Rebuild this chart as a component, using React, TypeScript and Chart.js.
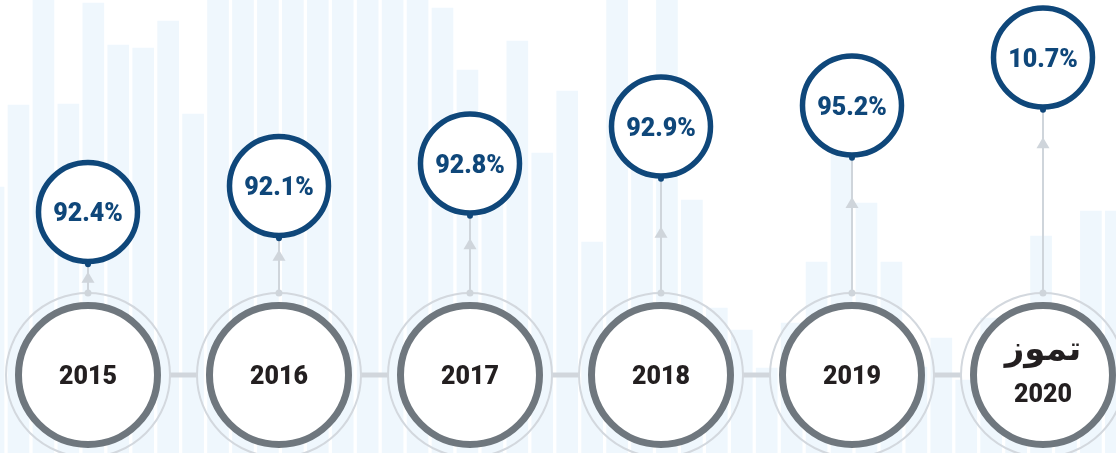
import React, { useEffect, useRef } from 'react';
import { Chart, registerables } from 'chart.js';

Chart.register(...registerables);

// ---- data ----
const years = ['2015', '2016', '2017', '2018', '2019', '2020'];
const yearPrefix = ['', '', '', '', '', 'تموز'];
const rates = [92.4, 92.1, 92.8, 92.9, 95.2, 10.7];
// decorative background bar heights (first bar is partly off the left edge)
const bgBarHeights = [
  266, 348, 453, 349, 450, 408, 405, 432, 339,
  453, 453, 453, 453, 453, 453, 453, 453, 453,
  445, 383, 283, 412, 300, 362, 211, 453, 333, 453,
  253, 145, 123, 85, 130, 191, 353, 250, 191, 86,
  115, 73, 135, 123, 217, 133, 242, 242,
];

// ---- layout / style constants (not data) ----
const BLUE = '#0f477a';
const ROW_LEVEL = 78;
const BUBBLE_LEVELS = [241, 267, 289.5, 326.5, 347.5, 395.5];
const ARROW_FRAC = [0.26, 0.21, 0.29, 0.42, 0.29, 0.15];
const R_OUTER = 82;
const R_RING = 69.5;
const RING_W = 7;
const R_BUB = 49.5;
const BUB_W = 5.5;
const NUM_FONT = '900 25px Roboto';

const timelinePlugin = {
  id: 'timeline',
  afterDatasetsDraw(chart: any) {
    const ctx = chart.ctx as CanvasRenderingContext2D;
    const xs = chart.scales.x;
    const ys = chart.scales.y;
    const cy = ys.getPixelForValue(ROW_LEVEL);
    const cxs = years.map((_, i) => xs.getPixelForValue(i));
    ctx.save();
    // connectors
    ctx.strokeStyle = '#d1d6dc';
    ctx.lineWidth = 5;
    for (let i = 0; i < cxs.length - 1; i++) {
      ctx.beginPath();
      ctx.moveTo(cxs[i] + R_OUTER, cy);
      ctx.lineTo(cxs[i + 1] - R_OUTER, cy);
      ctx.stroke();
    }
    years.forEach((yr, i) => {
      const cx = cxs[i];
      // outer thin ring
      ctx.beginPath();
      ctx.arc(cx, cy, R_OUTER, 0, Math.PI * 2);
      ctx.lineWidth = 2;
      ctx.strokeStyle = '#d3d8de';
      ctx.stroke();
      // thick ring
      ctx.beginPath();
      ctx.arc(cx, cy, R_RING, 0, Math.PI * 2);
      ctx.fillStyle = '#ffffff';
      ctx.fill();
      ctx.lineWidth = RING_W;
      ctx.strokeStyle = '#6f777e';
      ctx.stroke();
      // year text
      ctx.fillStyle = '#231f20';
      ctx.textAlign = 'center';
      ctx.textBaseline = 'alphabetic';
      if (yearPrefix[i]) {
        ctx.font = 'bold 34px "DejaVu Sans"';
        ctx.fillText(yearPrefix[i], cx, cy - 15);
        ctx.font = NUM_FONT;
        ctx.fillText(yr, cx, cy + 27);
      } else {
        ctx.font = NUM_FONT;
        ctx.fillText(yr, cx, cy + 9);
      }
      // connector up to bubble
      const by = ys.getPixelForValue(BUBBLE_LEVELS[i]);
      const bBottom = by + R_BUB + BUB_W / 2;
      const lineBottom = cy - R_OUTER;
      ctx.beginPath();
      ctx.moveTo(cx, lineBottom);
      ctx.lineTo(cx, bBottom);
      ctx.lineWidth = 2;
      ctx.strokeStyle = '#cfd5db';
      ctx.stroke();
      ctx.fillStyle = '#cfd5db';
      ctx.beginPath();
      ctx.arc(cx, lineBottom, 3.5, 0, Math.PI * 2);
      ctx.fill();
      const tip = bBottom + ARROW_FRAC[i] * (lineBottom - bBottom);
      ctx.beginPath();
      ctx.moveTo(cx, tip);
      ctx.lineTo(cx + 6.5, tip + 11);
      ctx.lineTo(cx - 6.5, tip + 11);
      ctx.closePath();
      ctx.fill();
      // bubble
      ctx.beginPath();
      ctx.arc(cx, by, R_BUB, 0, Math.PI * 2);
      ctx.fillStyle = '#ffffff';
      ctx.fill();
      ctx.lineWidth = BUB_W;
      ctx.strokeStyle = BLUE;
      ctx.stroke();
      ctx.beginPath();
      ctx.arc(cx, bBottom, 3, 0, Math.PI * 2);
      ctx.fillStyle = BLUE;
      ctx.fill();
      ctx.font = NUM_FONT;
      ctx.fillText(rates[i].toFixed(1) + '%', cx, by + 9);
    });
    ctx.restore();
  },
};

export default function App() {
  const ref = useRef<HTMLCanvasElement>(null);
  useEffect(() => {
    document.body.style.margin = '0';
    const chart = new Chart(ref.current as HTMLCanvasElement, {
      type: 'bar',
      data: {
        datasets: [
          {
            data: bgBarHeights.map((h, i) => ({ x: i - 1, y: h })) as any,
            xAxisID: 'xb',
            yAxisID: 'y',
            backgroundColor: '#eff7fd',
            borderWidth: 0,
            barThickness: 21,
          },
        ],
      },
      options: {
        animation: false,
        responsive: true,
        maintainAspectRatio: false,
        events: [],
        layout: { padding: 0 },
        plugins: { legend: { display: false }, tooltip: { enabled: false } },
        scales: {
          xb: { type: 'linear', min: -0.7418, max: 44.005, display: false, offset: false },
          x: { type: 'linear', min: -0.4607, max: 5.3822, display: false, offset: false },
          y: { type: 'linear', min: 0, max: 453, display: false },
        },
      } as any,
      plugins: [timelinePlugin],
    });
    return () => chart.destroy();
  }, []);
  return (
    <div style={{ position: 'relative', width: 1116, height: 453 }}>
      <canvas ref={ref} />
    </div>
  );
}
